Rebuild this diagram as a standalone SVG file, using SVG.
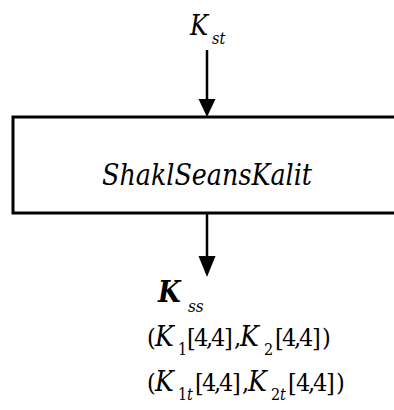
<svg xmlns="http://www.w3.org/2000/svg" width="394" height="410" viewBox="0 0 394 410">
  <style>
    text { font-family: 'DejaVu Serif Condensed', 'DejaVu Serif', serif; fill: #000; }
    .i { font-style: italic; }
    .b { font-weight: bold; }
    .sub { font-size: 16px; }
    .k { font-size: 28px; font-style: italic; }
    .edge { stroke: #000; stroke-width: 2.5; fill: none; }
    .head { fill: #000; }
    .box { fill: #fff; stroke: #000; stroke-width: 3; }
  </style>

  <!-- input key label -->
  <g id="input-label">
    <text class="i" x="190" y="35" font-size="27">K</text>
    <text class="i" x="212" y="44" font-size="16">st</text>
  </g>

  <!-- processing block -->
  <g id="block">
    <rect class="box" x="13" y="117" width="390" height="96"/>
    <text class="i" x="102" y="185" font-size="30" textLength="210" lengthAdjust="spacingAndGlyphs">ShaklSeansKalit</text>
  </g>

  <!-- connectors -->
  <g id="connectors">
    <line class="edge" x1="207" y1="50" x2="207" y2="100"/>
    <polygon class="head" points="198.5,99 215.5,99 207,117"/>
    <line class="edge" x1="207" y1="213" x2="207" y2="258"/>
    <polygon class="head" points="198.5,256 215.5,256 207,277"/>
  </g>

  <!-- output key label -->
  <g id="output-label">
    <text class="i b" x="158" y="302" font-size="29">K</text>
    <text class="i" x="188" y="312" font-size="17">ss</text>
  </g>

  <!-- key pair -->
  <g id="pair">
    <text font-size="25" y="346"><tspan x="147">(</tspan><tspan x="155" class="k">K</tspan><tspan x="178" y="355" class="sub">1</tspan><tspan x="187 194 206 211 224 234" y="346">[4,4],</tspan><tspan x="240" class="k">K</tspan><tspan x="264" y="355" class="sub">2</tspan><tspan x="275 282 294 299 312 322" y="346">[4,4])</tspan></text>
  </g>

  <!-- transposed key pair: subscript digit and t share one run -->
  <g id="pair-t">
    <text font-size="25" y="391"><tspan x="147">(</tspan><tspan x="155" class="k">K</tspan><tspan x="178 187" y="400" class="sub">1<tspan class="i">t</tspan></tspan><tspan x="195 202 214 219 232 242" y="391">[4,4],</tspan><tspan x="248" class="k">K</tspan><tspan x="271 280" y="400" class="sub">2<tspan class="i">t</tspan></tspan><tspan x="288 296 308 313 326 336" y="391">[4,4])</tspan></text>
  </g>
</svg>
